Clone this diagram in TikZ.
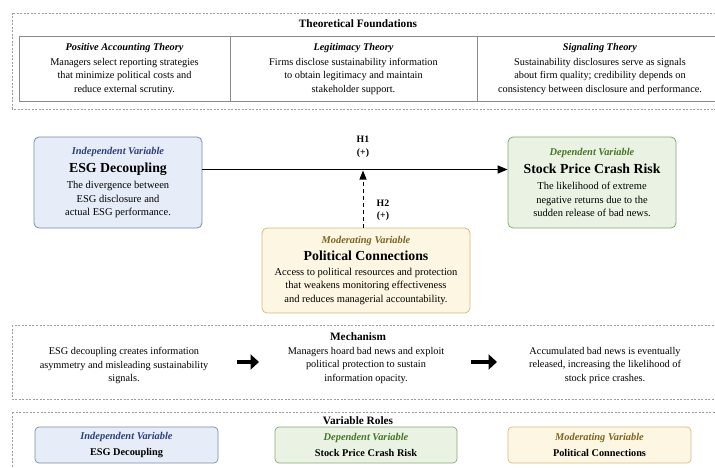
\documentclass[tikz,border=0pt]{standalone}
\usepackage{fontspec}
\setmainfont{Liberation Serif}
\usetikzlibrary{arrows.meta, positioning}
\definecolor{framegray}{HTML}{9C9C9C}
\definecolor{cellgray}{HTML}{8A8A8A}
\definecolor{indepfill}{HTML}{E7EDF8}
\definecolor{indepline}{HTML}{7C8CA8}
\definecolor{indepdark}{HTML}{2D3F7C}
\definecolor{depfill}{HTML}{EAF3E3}
\definecolor{depline}{HTML}{86A872}
\definecolor{depdark}{HTML}{467528}
\definecolor{modfill}{HTML}{FDF6E2}
\definecolor{modline}{HTML}{D8BC7C}
\definecolor{moddark}{HTML}{7D6420}
\tikzset{
	frame/.style={
		draw=framegray,
		dash pattern=on 2pt off 1.5pt,
		line width=0.6pt
	},
	sectitle/.style={
		font=\fontsize{11.3}{13}\selectfont\bfseries
	},
	cell/.style={
		align=center,
		inner sep=0pt,
		font=\fontsize{10.3}{13.2}\selectfont
	},
	varbox/.style={
		rounded corners=5pt,
		line width=0.8pt,
		align=center,
		inner sep=0pt,
		font=\fontsize{10.5}{13.5}\selectfont
	},
	rolebox/.style={
		rounded corners=4pt,
		line width=0.7pt,
		align=center,
		inner sep=0pt,
		minimum height=36pt,
		font=\fontsize{10.3}{16}\selectfont
	},
	indep/.style={fill=indepfill, draw=indepline},
	dep/.style={fill=depfill, draw=depline},
	moder/.style={fill=modfill, draw=modline},
	hyplabel/.style={
		align=center,
		inner sep=0pt,
		font=\fontsize{9.8}{12.5}\selectfont\bfseries
	},
	fatarrow/.style={
		line width=4.8pt,
		-{Triangle[length=8.5pt,width=15pt]}
	}
}
\newcommand{\vartitle}[2]{{\fontsize{10.4}{13}\selectfont\bfseries\itshape\color{#1}#2}}
\newcommand{\varname}[1]{{\fontsize{13.8}{16}\selectfont\bfseries #1}}

\begin{document}
\begin{tikzpicture}[x=1pt, y=-1pt]
		\clip (0,0) rectangle (715,468);
		\fill[white] (0,0) rectangle (715,468);

		% theoretical foundations
		\draw[frame] (12,13) rectangle (735,109);
		\node[sectitle] (tf) at (358,24) {Theoretical Foundations};
		\draw[cellgray, line width=0.7pt] (19,36) rectangle (723,101);
		\draw[cellgray, line width=0.7pt] (230,36) -- (230,101);
		\draw[cellgray, line width=0.7pt] (477,36) -- (477,101);
		\node[cell] (pat) at (124.5,69) {{\bfseries\itshape Positive Accounting Theory}\\[1.5pt]
			Managers select reporting strategies\\ that minimize political costs and\\ reduce external scrutiny.};
		\node[cell] (lt) at (353.5,69) {{\bfseries\itshape Legitimacy Theory}\\[1.5pt]
			Firms disclose sustainability information\\ to obtain legitimacy and maintain\\ stakeholder support.};
		\node[cell] (st) at (600,69) {{\bfseries\itshape Signaling Theory}\\[1.5pt]
			Sustainability disclosures serve as signals\\ about firm quality; credibility depends on\\ consistency between disclosure and performance.};

		% research model
		\node[varbox, indep, minimum width=168pt, minimum height=91pt] (esg) at (118,182.5) {\vartitle{indepdark}{Independent Variable}\\[5pt]
			\varname{ESG Decoupling}\\[2.5pt]
			The divergence between\\ ESG disclosure and\\ actual ESG performance.};
		\node[varbox, dep, minimum width=168pt, minimum height=91pt] (crash) at (592,182.5) {\vartitle{depdark}{Dependent Variable}\\[5pt]
			\varname{Stock Price Crash Risk}\\[2.5pt]
			The likelihood of extreme\\ negative returns due to the\\ sudden release of bad news.};
		\node[varbox, moder, minimum width=208pt, minimum height=85pt] (pc) at (366,270.5) {\vartitle{moddark}{Moderating Variable}\\[3.5pt]
			\varname{Political Connections}\\[1.5pt]
			Access to political resources and protection\\ that weakens monitoring effectiveness\\ and reduces managerial accountability.};
		\coordinate (hit) at (363,169.5);
		\draw[line width=1.4pt, -{Triangle[length=10pt,width=8pt]}] (esg.east |- hit) -- (crash.west |- hit);
		\draw[line width=1pt, dash pattern=on 4pt off 3pt, -{Triangle[length=9pt,width=7pt]}] (pc.north -| hit) -- ([yshift=-1pt]hit);
		\node[hyplabel] (h1) at (363,147) {H1\\(+)};
		\node[hyplabel] (h2) at (383,210.5) {H2\\(+)};

		% mechanism
		\draw[frame] (12,325) rectangle (735,399);
		\node[sectitle] (mech) at (358,337) {Mechanism};
		\node[cell] (m1) at (124,365.5) {ESG decoupling creates information\\ asymmetry and misleading sustainability\\ signals.};
		\node[cell] (m2) at (366,365.5) {Managers hoard bad news and exploit\\ political protection to sustain\\ information opacity.};
		\node[cell] (m3) at (605,365.5) {Accumulated bad news is eventually\\ released, increasing the likelihood of\\ stock price crashes.};
		\coordinate (a1) at (237,362);
		\coordinate (b1) at (259,362);
		\coordinate (a2) at (471,362);
		\coordinate (b2) at (497,362);
		\draw[fatarrow] (a1) -- (b1);
		\draw[fatarrow] (a2) -- (b2);

		% variable roles
		\draw[frame] (12,412) rectangle (735,490);
		\node[sectitle] (roles) at (358,421) {Variable Roles};
		\node[rolebox, indep, minimum width=183pt] (r1) at (126.5,445) {\vartitle{indepdark}{Independent Variable}\\{\bfseries ESG Decoupling}};
		\node[rolebox, dep, minimum width=182pt] (r2) at (366,445) {\vartitle{depdark}{Dependent Variable}\\{\bfseries Stock Price Crash Risk}};
		\node[rolebox, moder, minimum width=183pt] (r3) at (599.5,445) {\vartitle{moddark}{Moderating Variable}\\{\bfseries Political Connections}};
\end{tikzpicture}
\end{document}
